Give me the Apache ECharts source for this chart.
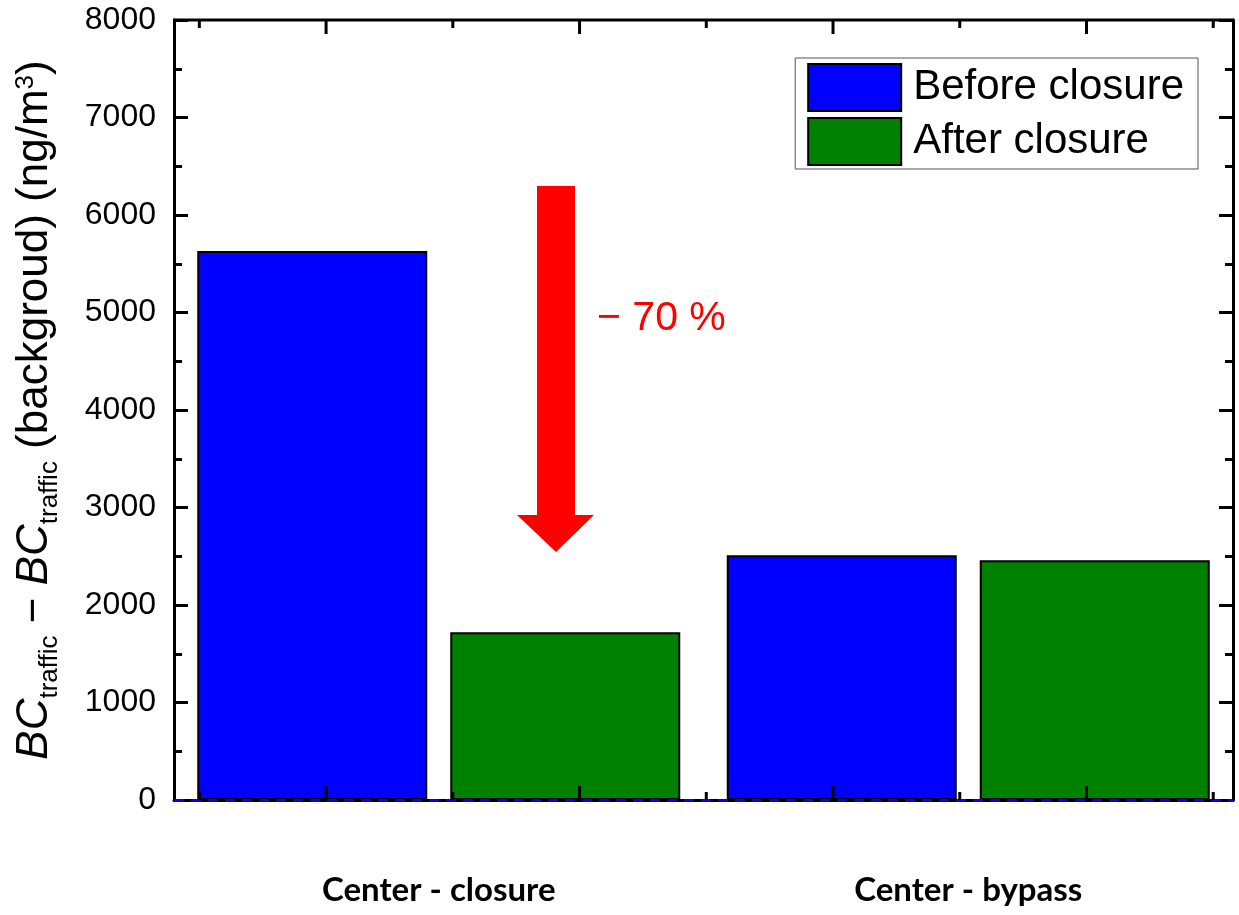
<!DOCTYPE html>
<html>
<head>
<meta charset="utf-8">
<script src="https://cdn.jsdelivr.net/npm/echarts@6/dist/echarts.min.js"></script>
<style>
  html, body { margin: 0; padding: 0; background: #fff; }
  #chart { width: 1239px; height: 915px; }
</style>
</head>
<body>
<div id="chart"></div>
<script>
// data
var categories = ['Center - closure', 'Center - bypass'];
var seriesNames = ['Before closure', 'After closure'];
var beforeClosure = [5630, 2510];
var afterClosure = [1720, 2460];
var yTicks = [0, 1000, 2000, 3000, 4000, 5000, 6000, 7000, 8000];
// frame ticks along the top / bottom edge (Origin style), in frame units
var frameMajor = [1, 2, 3, 4];
var frameMinor = [0.5, 1.5, 2.5, 3.5, 4.5];
var changeLabel = '\u2212 70 %';

var frameMin = 0.4, frameMax = 4.578;
var axisFont = 'Liberation Sans, Arial, sans-serif';
var box = { left: 174, right: 6, top: 20, bottom: 115 };
var W = 1239, H = 915;

var chart = echarts.init(document.getElementById('chart'));

function valueAxis(pos, showLabel) {
  return {
    type: 'value',
    position: pos,
    min: yTicks[0],
    max: yTicks[yTicks.length - 1],
    interval: 1000,
    z: 10,
    axisLine: { show: true, onZero: false, lineStyle: { color: '#000', width: 3 } },
    axisTick: { show: true, inside: true, length: 14, lineStyle: { color: '#000', width: 3 } },
    minorTick: { show: true, splitNumber: 2, length: 8, lineStyle: { color: '#000', width: 3 } },
    axisLabel: {
      show: showLabel, color: '#000', fontSize: 32, fontFamily: axisFont, margin: 18,
      formatter: function (v) { return String(v); }
    },
    splitLine: { show: false }
  };
}

var yAxisLeft = valueAxis('left', true);
yAxisLeft.name = '{i|BC}{sub|traffic}{n| \u2212 }{i|BC}{sub|traffic}{n| (backgroud) (ng/m}{sup|3}{n|)}';
yAxisLeft.nameLocation = 'middle';
yAxisLeft.nameRotate = 90;
yAxisLeft.nameGap = 111;
yAxisLeft.nameTextStyle = {
  color: '#000',
  fontFamily: axisFont,
  rich: {
    i: { fontSize: 44, fontStyle: 'italic', fontFamily: axisFont, color: '#000', lineHeight: 50, verticalAlign: 'top' },
    n: { fontSize: 44, fontFamily: axisFont, color: '#000', lineHeight: 50, verticalAlign: 'top' },
    sub: { fontSize: 26, fontFamily: axisFont, color: '#000', lineHeight: 26, verticalAlign: 'bottom' },
    sup: { fontSize: 26, fontFamily: axisFont, color: '#000', lineHeight: 20, verticalAlign: 'top' }
  }
};

// top frame line and the frame ticks as plain graphic lines
var x0 = box.left, x1 = W - box.right, yTop = box.top, yBot = H - box.bottom;
var frameStroke = { stroke: '#000', lineWidth: 3 };
var frameParts = [
  { type: 'line', z: 30, silent: true, shape: { x1: x0 - 1, y1: yTop, x2: x1 + 1, y2: yTop }, style: frameStroke }
];
function addTicks(values, len) {
  values.forEach(function (u) {
    var x = x0 + (u - frameMin) / (frameMax - frameMin) * (x1 - x0);
    frameParts.push({ type: 'line', z: 30, silent: true, shape: { x1: x, y1: yTop, x2: x, y2: yTop + len }, style: frameStroke });
    frameParts.push({ type: 'line', z: 30, silent: true, shape: { x1: x, y1: yBot, x2: x, y2: yBot - len }, style: frameStroke });
  });
}
addTicks(frameMajor, 14);
addTicks(frameMinor, 8);

var option = {
  backgroundColor: '#fff',
  animation: false,
  grid: { left: box.left, right: box.right, top: box.top, bottom: box.bottom, outerBoundsMode: 'none' },
  legend: {
    data: seriesNames,
    orient: 'vertical',
    right: 41,
    top: 58,
    itemWidth: 93,
    itemHeight: 47,
    itemGap: 5,
    padding: [5, 14, 3, 12],
    borderColor: '#555',
    borderWidth: 1,
    backgroundColor: '#fff',
    icon: 'rect',
    textStyle: { color: '#000', fontSize: 42, fontFamily: axisFont, padding: [0, 0, 0, 7] }
  },
  xAxis: {
    type: 'category',
    data: categories,
    position: 'bottom',
    axisLine: { show: true, onZero: false, lineStyle: { color: '#000', width: 3 } },
    axisTick: { show: false },
    axisLabel: {
      color: '#000', fontSize: 33, fontWeight: 'bold', fontFamily: 'Lato, Open Sans, sans-serif',
      margin: 74
    },
    splitLine: { show: false }
  },
  yAxis: [yAxisLeft, valueAxis('right', false)],
  series: [
    {
      name: seriesNames[0],
      type: 'bar',
      data: beforeClosure,
      barWidth: 230,
      barGap: '10%',
      itemStyle: { color: '#0000ff', borderColor: '#000', borderWidth: 2 },
      markLine: {
        silent: true,
        symbol: 'none',
        z: 12,
        label: { show: false },
        lineStyle: { color: '#0000ff', type: [10, 7], width: 3 },
        data: [{ yAxis: 0 }]
      }
    },
    {
      name: seriesNames[1],
      type: 'bar',
      data: afterClosure,
      barWidth: 230,
      barGap: '10%',
      itemStyle: { color: '#008000', borderColor: '#000', borderWidth: 2 }
    }
  ],
  graphic: frameParts.concat([
    {
      type: 'polygon',
      z: 20,
      shape: {
        points: [[537, 186], [575, 186], [575, 515], [594, 515], [556, 552], [517, 515], [537, 515]]
      },
      style: { fill: '#ff0000' }
    },
    {
      type: 'text',
      z: 20,
      left: 597,
      top: 298,
      style: {
        text: changeLabel,
        fill: '#ff0000',
        font: '41px "Liberation Sans", Arial, sans-serif'
      }
    }
  ])
};

chart.setOption(option);
</script>
</body>
</html>
